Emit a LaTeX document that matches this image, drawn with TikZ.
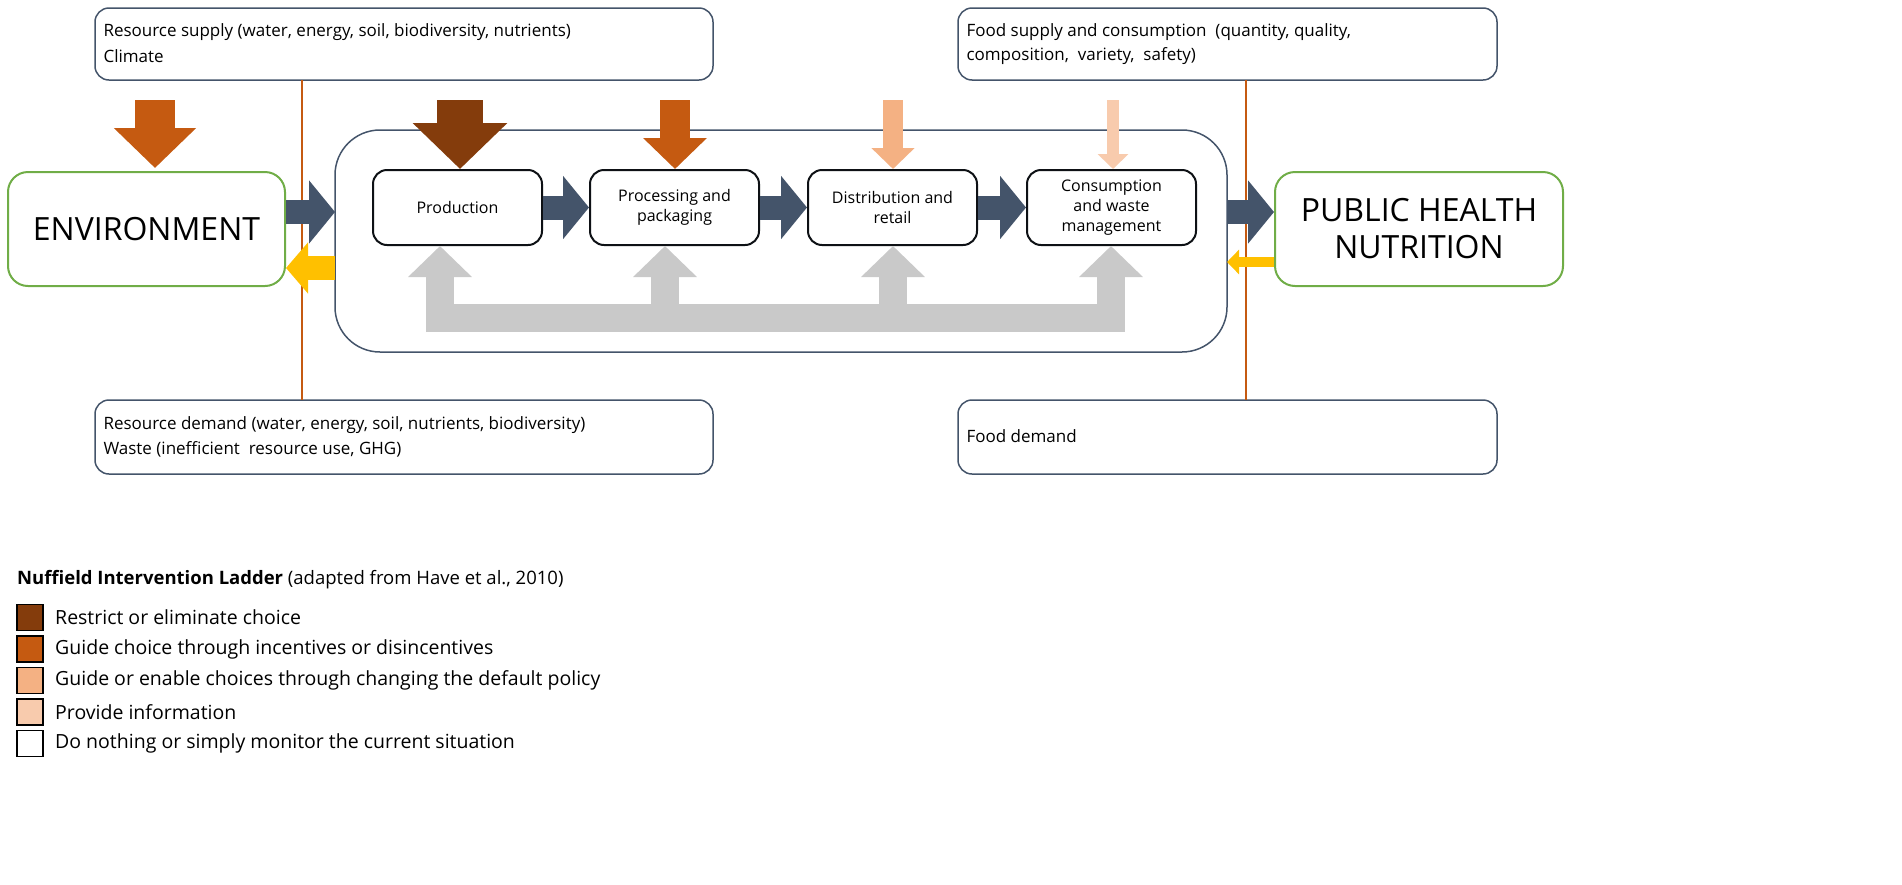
\documentclass[tikz,border=0pt]{standalone}
\usepackage{fontspec}
\setmainfont{Open Sans}
\usetikzlibrary{arrows.meta}
\definecolor{slate}{HTML}{44546A}
\definecolor{rust}{HTML}{C55A11}
\definecolor{brownx}{HTML}{843C0C}
\definecolor{peach}{HTML}{F4B183}
\definecolor{peachl}{HTML}{F8CBAD}
\definecolor{amber}{HTML}{FFC000}
\definecolor{greyx}{HTML}{C9C9C9}
\definecolor{greenx}{HTML}{70AD47}
\tikzset{
  info/.style={draw=slate, line width=1.5pt, rounded corners=14pt, align=left, anchor=north west, inner sep=0pt},
  stage/.style={draw=black!80!slate, line width=2pt, rounded corners=14pt, minimum width=169pt, minimum height=75pt, align=center, font=\fontsize{16}{20}\selectfont},
  side/.style={draw=greenx, line width=2pt, rounded corners=20pt, minimum height=114pt, align=center, font=\fontsize{32}{37}\selectfont},
  flow/.style={line width=24pt, -{Triangle[width=62pt,length=26pt]}, shorten >=0pt},
  push/.style args={#1/#2/#3}{draw=#1, line width=#2, -{Triangle[width=#3,length=0.5*#3]}},
  key/.style={draw=black, line width=1.5pt, minimum size=26pt, inner sep=0pt}
}
\begin{document}
\begin{tikzpicture}[x=1pt, y=-1pt, font=\fontsize{17}{24}\selectfont]
\useasboundingbox (0,0) rectangle (1902,884);
% info boxes
\draw[info] (95,8) rectangle (713,80);
\node[anchor=west] (rs) at (100,32) {Resource supply (water, energy, soil, biodiversity, nutrients)};
\node[anchor=west] (cl) at (100,56) {Climate};
\draw[info] (958,8) rectangle (1497,80);
\node[anchor=west] (fs) at (963,32) {Food supply and consumption\ \ (quantity, quality,};
\node[anchor=west] (fs2) at (963,56) {composition,\ \ variety,\ \ safety)};
\draw[info] (95,400) rectangle (713,474);
\node[anchor=west] (rd) at (100,425) {Resource demand (water, energy, soil, nutrients, biodiversity)};
\node[anchor=west] (ws) at (100,449) {Waste (inefficient\ \ resource use, GHG)};
\draw[info] (958,400) rectangle (1497,474);
\node[anchor=west] (fd) at (963,436) {Food demand};
% dividers
\draw[rust, line width=2.5pt] (302,80) -- (302,400);
\draw[rust, line width=2.5pt] (1246,80) -- (1246,400);
% system
\draw[draw=slate, line width=1.5pt, fill=white, rounded corners=45pt] (335,130) rectangle (1227,352);
\node[side, minimum width=277pt] (env) at (146.5,229) {ENVIRONMENT};
\node[side, minimum width=288pt] (phn) at (1419,229) {PUBLIC HEALTH\\NUTRITION};
\node[stage] (prod) at (457.5,207.5) {Production};
\node[stage] (proc) at (674.5,207.5) {Processing and\\packaging};
\node[stage] (dist) at (892.5,207.5) {Distribution and\\retail};
\node[stage] (cons) at (1111.5,207.5) {Consumption\\and waste\\management};
% flows
\coordinate (sysw) at (335,212);
\coordinate (syse) at (1227,212);
\draw[slate, flow] (env.east |- sysw) -- (sysw);
\draw[slate, flow] (prod) -- (proc);
\draw[slate, flow] (proc) -- (dist);
\draw[slate, flow] (dist) -- (cons);
\draw[slate, flow] (syse) -- (phn.west |- syse);
\draw[amber, line width=24pt, -{Triangle[width=50pt,length=22pt]}] (335,268) -- (env.east |- 0,268);
\draw[amber, line width=10pt, -{Triangle[width=24pt,length=12pt]}] (phn.west |- 0,262) -- (1227,262);
% interventions
\draw[push={rust/40pt/80pt}] (155,100) -- (155,168);
\draw[push={brownx/46pt/92pt}] (460,100) -- (prod.north -| 460,0);
\draw[push={rust/30pt/62pt}] (675,100) -- (proc.north -| 675,0);
\draw[push={peach/20pt/42pt}] (893,100) -- (dist.north -| 893,0);
\draw[push={peachl/12pt/30pt}] (1113,100) -- (cons.north -| 1113,0);
% feedback
\draw[greyx, line width=28pt] (426,318) -- (1124,318);
\foreach \n/\x in {prod/440, proc/665, dist/893, cons/1111}
  \draw[push={greyx/28pt/62pt}] (\x,332) -- (\n.south -| \x,0);
% legend
\node[anchor=west, inner sep=0pt, font=\fontsize{18.5}{24}\selectfont] (lt) at (17,580) {\textbf{Nuffield Intervention Ladder} (adapted from Have et al., 2010)};
\foreach \c/\t [count=\i] in {brownx/Restrict or eliminate choice,
  rust/Guide choice through incentives or disincentives,
  peach/Guide or enable choices through changing the default policy,
  peachl/Provide information,
  white/Do nothing or simply monitor the current situation}{
  \node[key, fill=\c] (k\i) at (30,586+31.5*\i) {};
  \node[anchor=west, inner sep=0pt, font=\fontsize{19.5}{24}\selectfont] (kt\i) at (55,586+31.5*\i) {\t};
}
\end{tikzpicture}
\end{document}
